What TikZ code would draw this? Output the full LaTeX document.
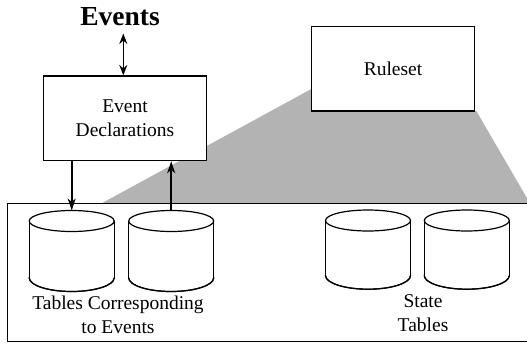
\documentclass[tikz,border=0pt]{standalone}
\usepackage{fontspec}
\setmainfont{Liberation Serif}
\newfontfamily\tnr{Liberation Serif}
\usetikzlibrary{arrows.meta}
\definecolor{greyfill}{RGB}{179,179,179}
\tikzset{
  box/.style={draw=black, line width=1.3pt, fill=white, minimum width=163.4pt, minimum height=84.5pt, inner sep=0pt, align=center, font=\tnr\fontsize{19.5}{23.5}\selectfont},
  lbl/.style={inner sep=0pt, align=center, font=\tnr\fontsize{19.5}{23.5}\selectfont},
  cylline/.style={draw=black, line width=1.2pt, fill=white},
  arr/.style={line width=1.6pt, -{Stealth[length=12pt,width=8pt,inset=3.5pt]}},
  darr/.style={line width=1.6pt, {Stealth[length=10.5pt,width=8pt,inset=3.5pt]}-{Stealth[length=10.5pt,width=8pt,inset=3.5pt]}}
}
\newcommand\dbcyl[4]{% name, cx, top cy, bottom cy
  \draw[cylline] (#2,#4) ellipse [x radius=42.5, y radius=13.7];
  \fill[white] (#2-42.5,#3) rectangle (#2+42.5,#4);
  \draw[line width=1.2pt] (#2-42.5,#4) arc[start angle=180, end angle=0, x radius=42.5, y radius=13.7];
  \draw[line width=1.2pt] (#2-42.5,#3) -- (#2-42.5,#4) (#2+42.5,#3) -- (#2+42.5,#4);
  \draw[cylline] (#2,#3) ellipse [x radius=42.5, y radius=10.5];
  \coordinate (#1) at (#2,#3-10.5);
}
\begin{document}
\begin{tikzpicture}[x=1pt,y=-1pt]
\useasboundingbox (0,0) rectangle (527,343);
\clip (0,0) rectangle (527,343);
% grey projection
\fill[greyfill] (101.7,203.3) -- (311.3,89) -- (311.3,111) -- (476.3,111) -- (530,203.3) -- cycle;
% outer frame
\draw[line width=1.3pt] (535,203.3) -- (7.3,203.3) -- (7.3,341.3) -- (535,341.3);
% boxes
\node[box] (decl) at (125,118.3) {Event\\Declarations};
\node[box] (rules) at (393,68.8) {Ruleset};
\node[inner sep=0pt, anchor=base, font=\tnr\fontsize{27.5}{30}\selectfont\bfseries] (events) at (120,25) {Events};
% cylinders
\dbcyl{t1}{71.7}{221}{277.8}
\dbcyl{t2}{171.2}{221}{277.8}
\dbcyl{s1}{368}{220.5}{275.5}
\dbcyl{s2}{466.8}{220.5}{275.5}
% labels
\node[lbl] (tce) at (118,315) {Tables Corresponding\\to Events};
\node[lbl] (st) at (423,313) {State\\Tables};
% arrows
\coordinate (evb) at (123.3,33.5);
\draw[darr] (evb) -- (decl.north -| evb);
\draw[arr] (decl.south -| t1) -- (t1);
\draw[arr] (t2) -- (decl.south -| t2);
\end{tikzpicture}
\end{document}
